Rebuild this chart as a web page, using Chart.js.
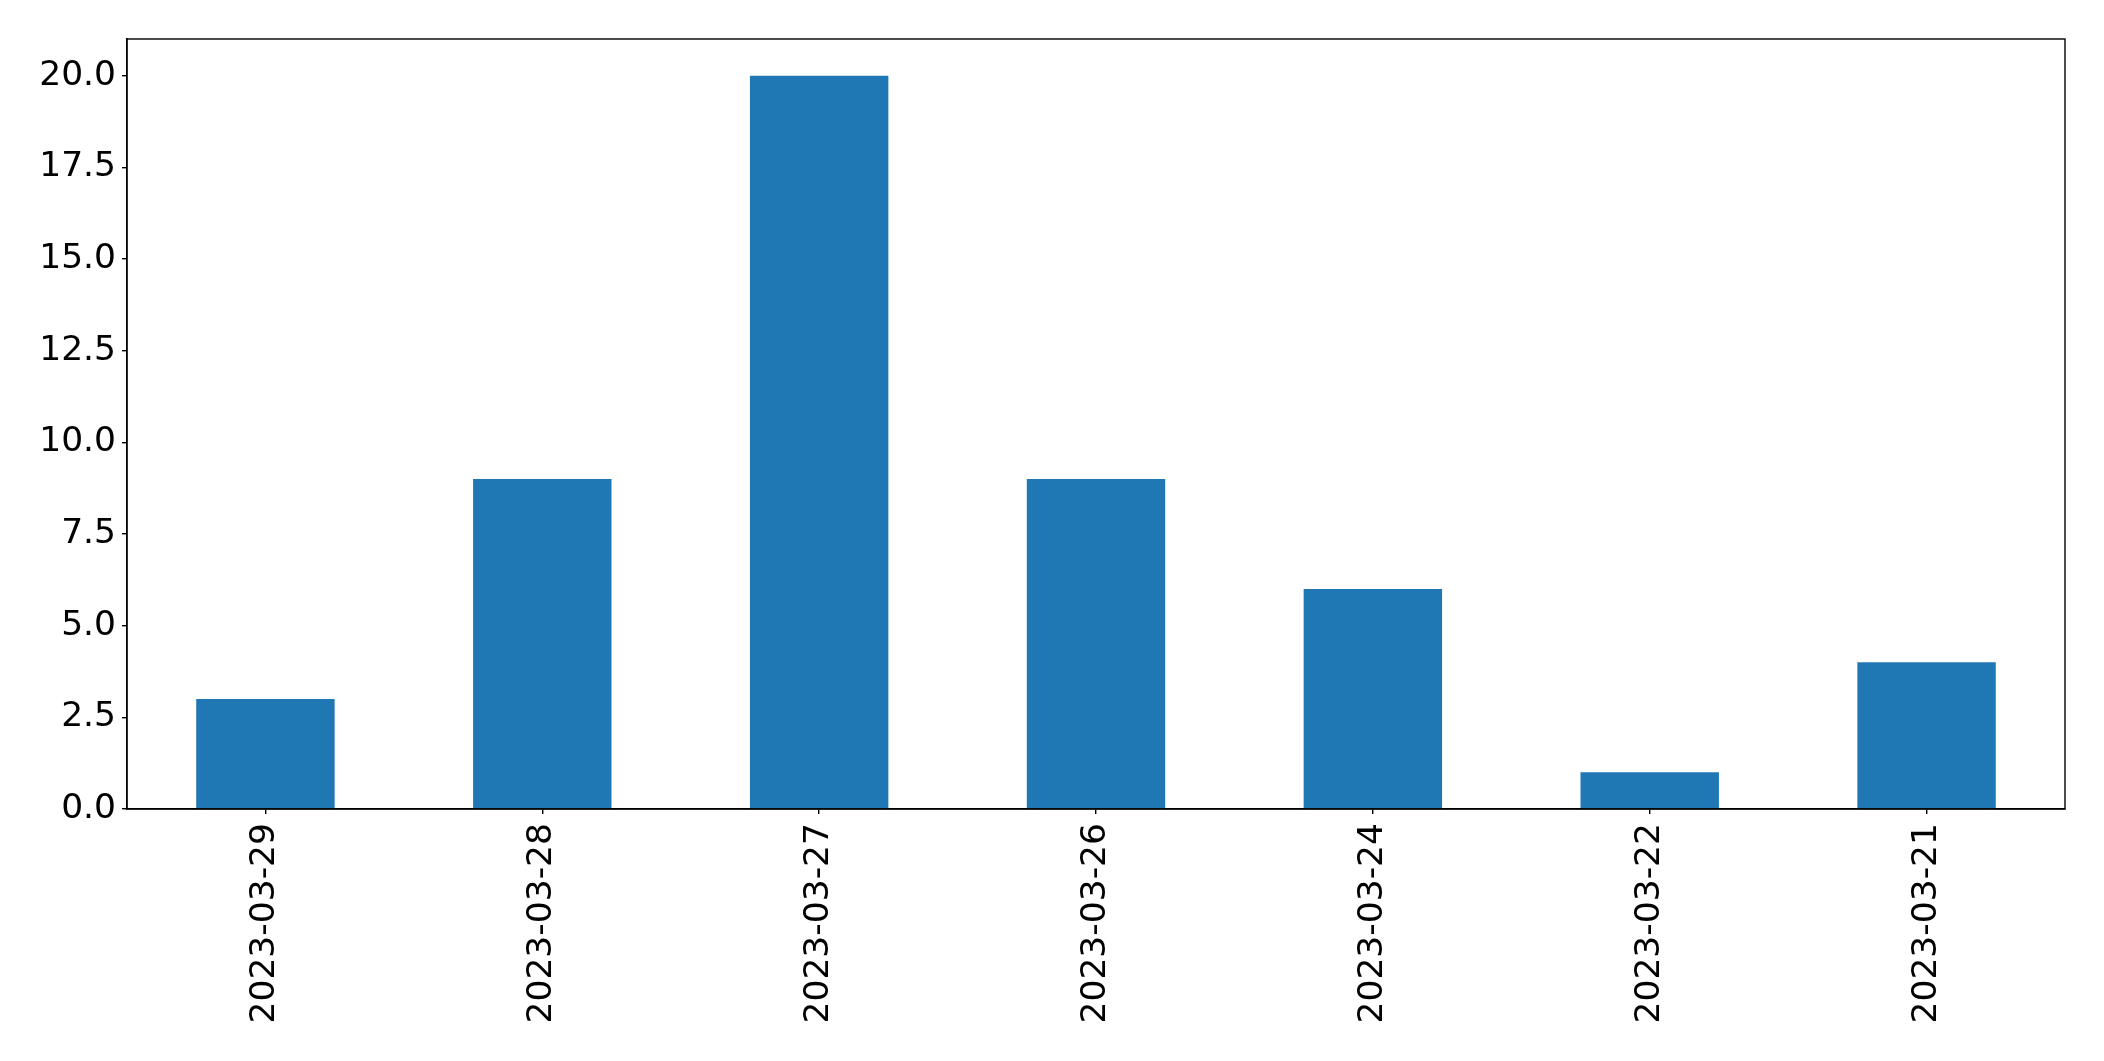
<!DOCTYPE html>
<html>
<head>
<meta charset="utf-8">
<script src="https://cdn.jsdelivr.net/npm/chart.js@4/dist/chart.umd.min.js"></script>
<style>
  html, body { margin: 0; padding: 0; background: #fff; }
  canvas { display: block; }
</style>
</head>
<body>
<canvas id="barChart" width="2104" height="1061"></canvas>
<script>
// Dates in the order they are plotted
const dates = ['2023-03-29', '2023-03-28', '2023-03-27', '2023-03-26', '2023-03-24', '2023-03-22', '2023-03-21'];
const counts = [3, 9, 20, 9, 6, 1, 4];
const yTicks = [0, 2.5, 5, 7.5, 10, 12.5, 15, 17.5, 20];

const tickFont = { family: 'DejaVu Sans', size: 34.5 };

// full box around the plot area, like matplotlib spines
const framePlugin = {
    id: 'frame',
    afterDraw(chart) {
        const a = chart.chartArea;
        const ctx = chart.ctx;
        ctx.save();
        ctx.strokeStyle = '#000';
        ctx.lineWidth = 1.4;
        ctx.strokeRect(a.left, a.top, a.right - a.left, a.bottom - a.top);
        ctx.restore();
    }
};

new Chart(document.getElementById('barChart'), {
    type: 'bar',
    data: {
        labels: dates,
        datasets: [{
            data: counts,
            backgroundColor: '#1f77b4',
            borderWidth: 0,
            barPercentage: 0.5,
            categoryPercentage: 1.0
        }]
    },
    options: {
        responsive: false,
        animation: false,
        layout: { padding: { top: 39, right: 39, left: 0, bottom: 0 } },
        plugins: {
            legend: { display: false },
            tooltip: { enabled: false }
        },
        scales: {
            x: {
                afterFit: s => { s.height = 252; },
                grid: { display: true, drawOnChartArea: false, offset: false, tickLength: 5, color: '#000', lineWidth: 1.4 },
                border: { display: true, color: '#000', width: 1.4 },
                ticks: {
                    autoSkip: false,
                    minRotation: 90,
                    maxRotation: 90,
                    padding: 9,
                    color: '#000',
                    font: tickFont
                }
            },
            y: {
                min: 0,
                max: 21,
                afterFit: s => { s.width = 127; },
                afterBuildTicks: s => { s.ticks = yTicks.map(v => ({ value: v })); },
                grid: { display: true, drawOnChartArea: false, tickLength: 5, color: '#000', lineWidth: 1.4 },
                border: { display: true, color: '#000', width: 1.4 },
                ticks: {
                    padding: 6,
                    color: '#000',
                    font: tickFont,
                    callback: v => Number(v).toFixed(1)
                }
            }
        }
    },
    plugins: [framePlugin]
});
</script>
</body>
</html>
